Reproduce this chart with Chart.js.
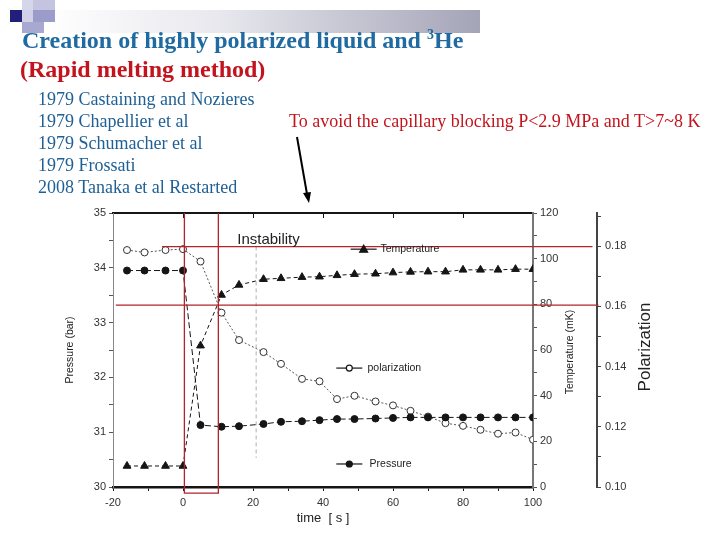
<!DOCTYPE html>
<html>
<head>
<meta charset="utf-8">
<script src="https://cdn.jsdelivr.net/npm/chart.js@4.4.0/dist/chart.umd.min.js"></script>
<style>
html, body { margin: 0; padding: 0; background: #fff; }
#slide { position: relative; width: 720px; height: 540px; overflow: hidden; background: #fff; }
#chart { position: absolute; left: 0; top: 0; }
.sq { position: absolute; }
.bar { position: absolute; left: 44px; top: 10px; width: 436px; height: 23px;
  background: linear-gradient(to right, #ffffff 0%, #e8e8ee 40%, #a4a4b8 100%); }
.t { position: absolute; white-space: nowrap; font-family: "Liberation Serif", "Times New Roman", serif; }
.title { font-size: 24px; line-height: 24px; font-weight: bold; color: #1f6aa0; }
.sub { font-size: 24px; line-height: 24px; font-weight: bold; color: #c3141e; }
.item { font-size: 18px; line-height: 18px; color: #1e5f94; left: 38px; }
.note { font-size: 18px; line-height: 18px; color: #c3141e; }
sup { font-size: 14px; vertical-align: 9px; line-height: 0; }
svg { position: absolute; left: 0; top: 0; }
</style>
</head>
<body>
<div id="slide">
  <div class="bar"></div>
  <div class="sq" style="left:22px;top:0;width:11px;height:10px;background:#d6d6ea"></div>
  <div class="sq" style="left:33px;top:0;width:22px;height:10px;background:#c4c4e0"></div>
  <div class="sq" style="left:10px;top:10px;width:12px;height:12px;background:#20207a"></div>
  <div class="sq" style="left:22px;top:10px;width:11px;height:12px;background:#d0d0e8"></div>
  <div class="sq" style="left:33px;top:10px;width:22px;height:12px;background:#9c9cca"></div>
  <div class="sq" style="left:22px;top:22px;width:22px;height:11px;background:#a8a8d0"></div>

  <canvas id="chart" width="720" height="540"></canvas>

  <div class="t title" style="left:22px;top:28px">Creation of highly polarized liquid and <sup>3</sup>He</div>
  <div class="t sub" style="left:20px;top:57px">(Rapid melting method)</div>
  <div class="t item" style="top:90px">1979 Castaining and Nozieres</div>
  <div class="t item" style="top:112px">1979 Chapellier et al</div>
  <div class="t item" style="top:134px">1979 Schumacher et al</div>
  <div class="t item" style="top:156px">1979 Frossati</div>
  <div class="t item" style="top:178px">2008 Tanaka et al Restarted</div>
  <div class="t note" style="left:289px;top:112px">To avoid the capillary blocking P&lt;2.9 MPa and T&gt;7~8 K</div>

  <svg width="720" height="540">
    <line x1="297" y1="137" x2="307" y2="194" stroke="#000" stroke-width="2"/>
    <polygon points="303,193 311,192 309,203" fill="#000"/>
  </svg>
</div>

<script>
// values
const timeS = [-16, -11, -5, 0, 5, 11, 16, 23, 28, 34, 39, 44, 49, 55, 60, 65, 70, 75, 80, 85, 90, 95, 100]
const pressureBar = [33.95, 33.95, 33.95, 33.95, 31.13, 31.10, 31.11, 31.15, 31.19, 31.20, 31.22, 31.24, 31.24, 31.25, 31.26, 31.27, 31.27, 31.27, 31.27, 31.27, 31.27, 31.27, 31.27]
const temperatureMK = [9.2, 9.2, 9.2, 9.2, 61.9, 84.1, 88.5, 91.0, 91.4, 91.9, 92.1, 92.7, 93.2, 93.4, 93.9, 94.2, 94.3, 94.3, 95.1, 95.1, 95.1, 95.4, 95.4]
const polarization = [0.1787, 0.1779, 0.1787, 0.1790, 0.1749, 0.1579, 0.1488, 0.1448, 0.1409, 0.1359, 0.1351, 0.1292, 0.1303, 0.1284, 0.1271, 0.1253, 0.1234, 0.1212, 0.1203, 0.1190, 0.1177, 0.1181, 0.1157]

// red marks added on the slide (pressure axis units)
const redUpperTime = [-6, 117]
const redUpperBar = [34.385, 34.385]
const redLowerTime = [-19.2, 118.7]
const redLowerBar = [33.32, 33.32]
const redBoxTime = [0.4, 0.4, 10.1, 10.1]
const redBoxBar = [35, 29.89, 29.89, 35]
const instabilityTime = [20.9, 20.9]
const instabilityBar = [34.39, 30.53]

const pts = (xs, ys) => xs.map((x, i) => ({ x: x, y: ys[i] }))

const ink = '#151515'
const tickFont = { family: '"Liberation Sans", Arial, sans-serif', size: 11 }
const sans = '"Liberation Sans", Arial, sans-serif'

const drawSample = (ctx, x0, y0, style) => {
  ctx.save()
  ctx.strokeStyle = ink
  ctx.lineWidth = 1.2
  ctx.beginPath()
  ctx.moveTo(x0, y0)
  ctx.lineTo(x0 + 26, y0)
  ctx.stroke()
  const cx = x0 + 13
  ctx.fillStyle = style == 'open' ? '#fff' : ink
  ctx.beginPath()
  if (style == 'triangle') {
    ctx.moveTo(cx, y0 - 4)
    ctx.lineTo(cx + 4, y0 + 3)
    ctx.lineTo(cx - 4, y0 + 3)
    ctx.closePath()
  } else {
    ctx.arc(cx, y0, 3, 0, Math.PI * 2)
  }
  ctx.fill()
  ctx.stroke()
  ctx.restore()
}

const chartNotes = {
  id: 'chartNotes',
  afterDraw(chart) {
    const { ctx, scales } = chart
    const x = scales.x, y = scales.y
    ctx.save()
    ctx.fillStyle = '#222'
    ctx.textBaseline = 'middle'

    ctx.font = '15px ' + sans
    ctx.fillText('Instability', x.getPixelForValue(15.5), y.getPixelForValue(34.51))

    ctx.font = '10.5px ' + sans
    drawSample(ctx, x.getPixelForValue(47.9), y.getPixelForValue(34.34), 'triangle')
    ctx.fillText('Temperature', x.getPixelForValue(56.4), y.getPixelForValue(34.34))
    drawSample(ctx, x.getPixelForValue(43.8), y.getPixelForValue(32.17), 'open')
    ctx.fillText('polarization', x.getPixelForValue(52.7), y.getPixelForValue(32.17))
    drawSample(ctx, x.getPixelForValue(43.8), y.getPixelForValue(30.42), 'dot')
    ctx.fillText('Pressure', x.getPixelForValue(53.3), y.getPixelForValue(30.42))

    // right hand axis titles read bottom to top
    const t1 = scales.y1, t2 = scales.y2
    const midY = (t1.top + t1.bottom) / 2
    ctx.textAlign = 'center'
    ctx.save()
    ctx.translate(t1.left + 37, midY + 2)
    ctx.rotate(-Math.PI / 2)
    ctx.font = '10.5px ' + sans
    ctx.fillText('Temperature (mK)', 0, 0)
    ctx.restore()
    ctx.save()
    ctx.translate(t2.left + 48, midY - 3)
    ctx.rotate(-Math.PI / 2)
    ctx.font = '17px ' + sans
    ctx.fillText('Polarization', 0, 0)
    ctx.restore()
    ctx.restore()
  }
}

const redLine = (label, xs, ys) => ({
  label: label,
  data: pts(xs, ys),
  yAxisID: 'y',
  borderColor: '#b3232b',
  borderWidth: 1.3,
  pointRadius: 0,
  clip: false,
  order: -1
})

window.addEventListener('load', () => {
  new Chart(document.getElementById('chart'), {
    type: 'line',
    data: {
      datasets: [
        redLine('red upper', redUpperTime, redUpperBar),
        redLine('red lower', redLowerTime, redLowerBar),
        redLine('red box', redBoxTime, redBoxBar),
        {
          label: 'instability',
          data: pts(instabilityTime, instabilityBar),
          yAxisID: 'y',
          borderColor: '#b0b0b0',
          borderWidth: 1,
          borderDash: [4, 3],
          pointRadius: 0
        },
        {
          label: 'Pressure',
          data: pts(timeS, pressureBar),
          yAxisID: 'y',
          borderColor: ink,
          borderWidth: 1,
          borderDash: [6, 3],
          pointRadius: 3.5,
          pointBackgroundColor: ink,
          pointBorderColor: ink
        },
        {
          label: 'Temperature',
          data: pts(timeS, temperatureMK),
          yAxisID: 'y1',
          borderColor: ink,
          borderWidth: 1,
          borderDash: [4, 3],
          pointStyle: 'triangle',
          pointRadius: 4.5,
          pointBackgroundColor: ink,
          pointBorderColor: ink
        },
        {
          label: 'polarization',
          data: pts(timeS, polarization),
          yAxisID: 'y2',
          borderColor: '#555',
          borderWidth: 1,
          borderDash: [2, 2],
          pointRadius: 3.5,
          pointBackgroundColor: '#fff',
          pointBorderColor: '#333'
        }
      ]
    },
    options: {
      responsive: false,
      animation: false,
      layout: { padding: { left: 62, top: 200, right: 0, bottom: 0 } },
      plugins: { legend: { display: false }, tooltip: { enabled: false } },
      scales: {
        x: {
          type: 'linear', position: 'bottom', min: -20, max: 100,
          afterFit: (s) => { s.height = 53 },
          ticks: { stepSize: 10, autoSkip: false, maxRotation: 0, padding: 5, color: '#333', font: tickFont,
            callback: (v) => v % 20 === 0 ? v : '' },
          grid: { drawOnChartArea: false, tickLength: 4, color: ink },
          border: { color: ink, width: 2.5 },
          title: { display: true, text: 'time  [ s ]', color: '#222', font: { family: tickFont.family, size: 13 }, padding: { top: 0, bottom: 14 } }
        },
        xTop: {
          type: 'linear', position: 'top', min: -20, max: 100,
          afterFit: (s) => { s.height = 13 },
          ticks: { display: false, stepSize: 20 },
          grid: { drawOnChartArea: false, tickLength: -5, color: ink },
          border: { color: ink, width: 2 }
        },
        y: {
          position: 'left', min: 30, max: 35,
          afterFit: (s) => { s.width = 51 },
          ticks: { stepSize: 0.5, autoSkip: false, padding: 3, color: '#333', font: tickFont,
            callback: (v) => Number.isInteger(v) ? v : '' },
          grid: { drawOnChartArea: false, tickLength: 4, color: '#555' },
          border: { color: '#888', width: 1 },
          title: { display: true, text: 'Pressure (bar)', color: '#222', font: { family: tickFont.family, size: 10.5 }, padding: { top: 2, bottom: 0 } }
        },
        y1: {
          position: 'right', min: 0, max: 120,
          afterFit: (s) => { s.width = 64 },
          ticks: { stepSize: 10, autoSkip: false, padding: 3, color: '#333', font: tickFont,
            callback: (v) => v % 20 === 0 ? v : '' },
          grid: { drawOnChartArea: false, tickLength: 4, color: '#555' },
          border: { color: '#777', width: 2 }
        },
        y2: {
          position: 'right', min: 0.10, max: 0.191,
          afterFit: (s) => { s.width = 123 },
          ticks: { stepSize: 0.01, autoSkip: false, includeBounds: false, padding: 4, color: '#333', font: tickFont,
            callback: (v) => { const k = Math.round(v * 100); return k % 2 === 0 ? (k / 100).toFixed(2) : '' } },
          grid: { drawOnChartArea: false, tickLength: 4, color: '#444' },
          border: { color: '#444', width: 2 }
        }
      }
    },
    plugins: [chartNotes]
  })
})
</script>
</body>
</html>
